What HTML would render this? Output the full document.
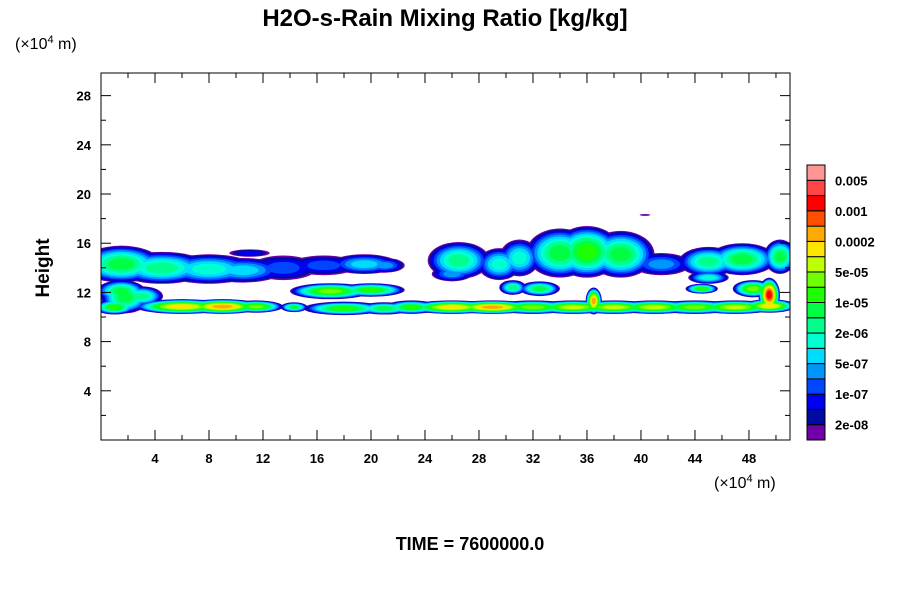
<!DOCTYPE html>
<html><head><meta charset="utf-8"><style>
body{margin:0;background:#fff;}
svg text{font-family:"Liberation Sans",sans-serif;}
</style></head><body>
<svg width="900" height="600" viewBox="0 0 900 600" xmlns="http://www.w3.org/2000/svg">
<rect width="900" height="600" fill="#fff"/>
<text x="445" y="26" text-anchor="middle" font-size="24" font-weight="bold">H2O-s-Rain Mixing Ratio [kg/kg]</text>
<text x="15" y="49" font-size="16">(×10<tspan font-size="11" dy="-6">4</tspan><tspan dy="6"> m)</tspan></text>
<text x="714" y="488" font-size="16">(×10<tspan font-size="11" dy="-6">4</tspan><tspan dy="6"> m)</tspan></text>
<text transform="translate(49,268) rotate(-90)" text-anchor="middle" font-size="19" font-weight="bold">Height</text>
<text x="470" y="550" text-anchor="middle" font-size="18" font-weight="bold">TIME = 7600000.0</text>
<defs><clipPath id="pc"><rect x="101" y="73" width="689" height="367"/></clipPath></defs>
<g id="field" clip-path="url(#pc)"></g>
<g id="axes"></g>
<g id="cbar"></g>
</svg>
<script>
const colors=["#7000a8","#000aa0","#0000f0","#0046ff","#0096ff","#00dcff","#00ffd2","#00ff8c","#00ff44","#1eff00","#6eff00","#c0ff00","#ffe600","#ffaa00","#ff5000","#ff0000","#ff4646","#ff9696"];
const cbarLabels=["0.005","0.001","0.0002","5e-05","1e-05","2e-06","5e-07","1e-07","2e-08"];
const xTicks=[4,8,12,16,20,24,28,32,36,40,44,48];
const yTicks=[4,8,12,16,20,24,28];
// cloud blobs: center x, center z, radius x, radius z, peak level
const blobX=[1.5,4.5,8,10.5,13.5,16.5,19.5,21,11,1.5,3,6,9,11.5,14.3,17,20,18,21,23,26,29,32,35,38,41,44,47,49.5,36.5,49.5,48.3,44.5,26.5,29.5,31,34,36,38.5,41.5,45,47.5,50.3,32.5,30.5,40.3,26,45,1.8,1];
const blobZ=[14.3,14,13.9,13.8,14,14.2,14.3,14.2,15.2,12.1,11.7,10.85,10.85,10.85,10.8,12.1,12.2,10.7,10.7,10.8,10.8,10.8,10.8,10.8,10.8,10.8,10.8,10.8,10.9,11.3,11.8,12.3,12.3,14.6,14.3,14.8,15.2,15.3,15.1,14.3,14.5,14.7,14.9,12.3,12.4,18.3,13.5,13.2,11.6,10.8];
const blobRX=[3,3.5,3.5,3,2.5,2.5,2.5,1.5,1.5,1.8,1.6,3.5,3,2,1,3,2.5,3,2,2,3.2,3.2,3,3,3,3,3,3,2,0.6,0.8,1.5,1.2,2.3,1.6,1.5,2.5,2.5,2.5,2.2,2.2,2.5,1.2,1.5,1,0.4,1.5,1.5,1.8,1.5];
const blobRZ=[1.5,1.3,1.2,1,1,0.8,0.8,0.6,0.3,0.9,0.8,0.6,0.6,0.5,0.4,0.65,0.55,0.55,0.5,0.55,0.55,0.55,0.55,0.55,0.55,0.55,0.55,0.55,0.55,1.1,1.4,0.7,0.4,1.5,1.3,1.5,2,2.1,1.9,0.9,1.2,1.3,1.4,0.6,0.6,0.08,0.6,0.5,1.3,0.6];
const blobPeak=[8,7,6,5,3,3,5,4,2,8,7,12,13,10,8,10,9,9,8,9,12,13,10,11,11,11,10,11,12,13,15,10,9,7,6,6,8,9,8,4,7,8,8,8,7,0,4,6,8,9];
const NS="http://www.w3.org/2000/svg";
const X0=101,X1=790,Y0=440,Y1=73,XMAX=51.04,ZMAX=29.84;
const sx=v=>X0+(X1-X0)*v/XMAX, sz=v=>Y0-(Y0-Y1)*v/ZMAX;
function mk(t,a,p){const e=document.createElementNS(NS,t);for(const k in a)e.setAttribute(k,a[k]);p.appendChild(e);return e;}
const field=document.getElementById('field');
const maxPeak=Math.max(...blobPeak);
for(let L=0;L<=maxPeak;L++){
  for(let i=0;i<blobX.length;i++){
    if(blobPeak[i]<L)continue;
    const f=L/(blobPeak[i]+1);
    const s=Math.sqrt(1-f*f)*(1-0.35*f);
    const e=mk('ellipse',{cx:sx(blobX[i]),cy:sz(blobZ[i]),rx:(sx(blobRX[i])-X0)*s,ry:(Y0-sz(blobRZ[i]))*s,fill:colors[L]},field);
    
    
  }
}
const ax=document.getElementById('axes');
mk('rect',{x:X0,y:Y1,width:X1-X0,height:Y0-Y1,fill:'none',stroke:'#000','stroke-width':1},ax);
for(let v=2;v<XMAX;v+=2){const maj=v%4===0,l=maj?10:5;
  mk('line',{x1:sx(v),x2:sx(v),y1:Y0,y2:Y0-l,stroke:'#000'},ax);
  mk('line',{x1:sx(v),x2:sx(v),y1:Y1,y2:Y1+l,stroke:'#000'},ax);}
for(let v=2;v<ZMAX;v+=2){const maj=v%4===0,l=maj?10:5;
  mk('line',{x1:X0,x2:X0+l,y1:sz(v),y2:sz(v),stroke:'#000'},ax);
  mk('line',{x1:X1,x2:X1-l,y1:sz(v),y2:sz(v),stroke:'#000'},ax);}
xTicks.forEach(v=>{const t=mk('text',{x:sx(v),y:Y0+23,'text-anchor':'middle','font-size':13,'font-weight':'bold'},ax);t.textContent=v;
  
  });
yTicks.forEach(v=>{const t=mk('text',{x:91,y:sz(v)+5,'text-anchor':'end','font-size':13,'font-weight':'bold'},ax);t.textContent=v;
  
  });
const cb=document.getElementById('cbar');
const CX=807,CW=18,CT=165,CB=440,n=colors.length,bh=(CB-CT)/n;
for(let i=0;i<n;i++){
  const r=mk('rect',{x:CX,y:CB-(i+1)*bh,width:CW,height:bh,fill:colors[i],stroke:'#000','stroke-width':1},cb);
  
  
}
cbarLabels.forEach((s,i)=>{const t=mk('text',{x:835,y:CT+(2*i+1)*bh+5,'font-size':13,'font-weight':'bold'},cb);t.textContent=s;
  
  });
</script>
</body></html>
